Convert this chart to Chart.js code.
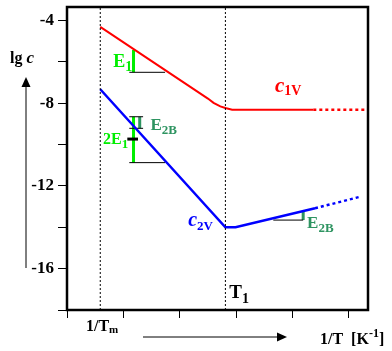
<!DOCTYPE html>
<html>
<head>
<meta charset="utf-8">
<script src="https://cdn.jsdelivr.net/npm/chart.js@4"></script>
<style>
  body { margin: 0; background: #fff; }
</style>
</head>
<body>
<canvas id="myChart" width="392" height="351"></canvas>
<script>
// data (x = 1/T in arbitrary units, y = lg c)
const c1vX = [0.59, 2.5, 2.6, 2.72, 2.81, 2.93, 4.37];
const c1vY = [-4.3, -7.77, -7.98, -8.15, -8.23, -8.31, -8.31];
const c1vDotX = [4.37, 5.29];
const c1vDotY = [-8.31, -8.31];

const c2vX = [0.59, 2.81, 2.99, 4.40];
const c2vY = [-7.32, -14.0, -14.0, -13.08];
const c2vDotX = [4.40, 5.2];
const c2vDotY = [-13.08, -12.52];

// 1/Tm and T1 markers
const markerX = [0.59, 2.81];

// slope triangles [x1, y1, x2, y2]
const greenBars = [[1.18, -5.42, 1.18, -6.50], [1.18, -8.65, 1.18, -10.87]];
const e2bBars = [[1.29, -8.65, 1.29, -9.21], [4.19, -13.22, 4.19, -13.65]];
const blackLines = [
    [1.105, -6.50, 1.74, -6.50],
    [1.105, -8.65, 1.35, -8.65],
    [1.105, -9.21, 1.35, -9.21],
    [1.105, -10.87, 1.74, -10.87],
    [3.66, -13.65, 4.19, -13.65]
];
const blackDash = [[1.07, -9.73, 1.26, -9.73]];

const yMin = -18;
const yMax = -3.34;
const xMin = 0;
const xMax = 5.34;
const yLabels = [-4, -8, -12, -16];

const RED = '#ff0000';
const BLUE = '#0000ff';
const LIME = '#00ee00';
const SEA = '#2e9461';
const SERIF = '"Liberation Serif", "DejaVu Serif", serif';

function toPoints(xs, ys) {
    return xs.map((x, i) => ({ x: x, y: ys[i] }));
}

function segSets(segs, color, width, dash) {
    return segs.map(s => ({
        data: [{ x: s[0], y: s[1] }, { x: s[2], y: s[3] }],
        borderColor: color,
        borderWidth: width,
        borderDash: dash || [],
        pointRadius: 0,
        showLine: true
    }));
}

const datasets = [];

markerX.forEach(x => {
    datasets.push({
        data: [{ x: x, y: yMin }, { x: x, y: yMax }],
        borderColor: '#000',
        borderWidth: 1,
        borderDash: [2, 2],
        pointRadius: 0,
        showLine: true
    });
});

datasets.push({
    data: toPoints(c1vX, c1vY),
    borderColor: RED,
    borderWidth: 2,
    pointRadius: 0,
    showLine: true
});
datasets.push({
    data: toPoints(c1vDotX, c1vDotY),
    borderColor: RED,
    borderWidth: 2.5,
    borderDash: [3, 3],
    pointRadius: 0,
    showLine: true
});
datasets.push({
    data: toPoints(c2vX, c2vY),
    borderColor: BLUE,
    borderWidth: 2.5,
    pointRadius: 0,
    showLine: true
});
datasets.push({
    data: toPoints(c2vDotX, c2vDotY),
    borderColor: BLUE,
    borderWidth: 2.5,
    borderDash: [3, 3],
    pointRadius: 0,
    showLine: true
});

datasets.push(...segSets(blackLines, '#000', 1));
datasets.push(...segSets(blackDash, '#000', 3));
datasets.push(...segSets(greenBars, LIME, 3));
datasets.push(...segSets(e2bBars, SEA, 3));

// text with subscript / superscript
function subText(ctx, x, y, main, sub, color, size, italic, subSize, drop) {
    ctx.fillStyle = color;
    ctx.textBaseline = 'alphabetic';
    ctx.textAlign = 'left';
    ctx.font = (italic ? 'italic ' : '') + 'bold ' + size + 'px ' + SERIF;
    ctx.fillText(main, x, y);
    const w = ctx.measureText(main).width;
    if (sub) {
        ctx.font = 'bold ' + subSize + 'px ' + SERIF;
        ctx.fillText(sub, x + w, y + drop);
    }
}

function arrow(ctx, x1, y1, x2, y2) {
    const ang = Math.atan2(y2 - y1, x2 - x1);
    const len = 10;
    const half = 4.5;
    ctx.strokeStyle = '#000';
    ctx.lineWidth = 1;
    ctx.beginPath();
    ctx.moveTo(x1, y1);
    ctx.lineTo(x2 - len * Math.cos(ang), y2 - len * Math.sin(ang));
    ctx.stroke();
    ctx.fillStyle = '#000';
    ctx.beginPath();
    ctx.moveTo(x2, y2);
    ctx.lineTo(x2 - len * Math.cos(ang) - half * Math.sin(ang), y2 - len * Math.sin(ang) + half * Math.cos(ang));
    ctx.lineTo(x2 - len * Math.cos(ang) + half * Math.sin(ang), y2 - len * Math.sin(ang) - half * Math.cos(ang));
    ctx.closePath();
    ctx.fill();
}

const decor = {
    id: 'decor',
    afterDraw(chart) {
        const ctx = chart.ctx;
        const a = chart.chartArea;
        const xs = chart.scales.x;
        const ys = chart.scales.y;
        const px = v => xs.getPixelForValue(v);
        const py = v => ys.getPixelForValue(v);
        ctx.save();

        // frame
        ctx.strokeStyle = '#000';
        ctx.lineWidth = 2.5;
        ctx.strokeRect(a.left, a.top, a.right - a.left, a.bottom - a.top);

        // curve labels
        subText(ctx, px(0.82), py(-6.24), 'E', '1', LIME, 18, false, 14, 4);
        subText(ctx, px(0.64), py(-9.97), '2E', '1', LIME, 16, false, 13, 4);
        subText(ctx, px(1.48), py(-9.29), 'E', '2B', SEA, 17, false, 13, 4);
        subText(ctx, px(4.26), py(-14.04), 'E', '2B', SEA, 17, false, 13, 4);
        subText(ctx, px(3.69), py(-7.45), 'c', '1V', RED, 21, true, 14, 3);
        subText(ctx, px(2.15), py(-13.94), 'c', '2V', BLUE, 20, true, 13, 4);
        subText(ctx, px(2.88), py(-17.43), 'T', '1', '#000', 19, false, 14, 5);

        // axis captions
        subText(ctx, 10, 63, 'lg ', '', '#000', 16, false, 0, 0);
        ctx.font = 'bold 16px ' + SERIF;
        const lgW = ctx.measureText('lg ').width;
        subText(ctx, 10 + lgW, 63, 'c', '', '#000', 17, true, 0, 0);
        arrow(ctx, 26, 268, 26, 77);

        subText(ctx, 86, 331, '1/T', 'm', '#000', 16, false, 11, 2);
        arrow(ctx, 143, 337, 287, 337);

        subText(ctx, 320, 344, '1/T  [K', '-1', '#000', 16, false, 12, -7);
        ctx.font = 'bold 16px ' + SERIF;
        const kW = ctx.measureText('1/T  [K').width;
        ctx.font = 'bold 12px ' + SERIF;
        const sW = ctx.measureText('-1').width;
        subText(ctx, 320 + kW + sW, 344, ']', '', '#000', 16, false, 0, 0);

        ctx.restore();
    }
};

new Chart(document.getElementById('myChart'), {
    type: 'scatter',
    data: { datasets: datasets },
    options: {
        responsive: false,
        animation: false,
        layout: { padding: { top: 7, right: 24, left: 0, bottom: 0 } },
        plugins: {
            legend: { display: false },
            tooltip: { enabled: false }
        },
        scales: {
            x: {
                type: 'linear',
                min: xMin,
                max: xMax,
                border: { display: false },
                grid: { drawOnChartArea: false, drawTicks: true, tickLength: 8, color: '#000', lineWidth: 1 },
                ticks: { stepSize: 1, includeBounds: false, callback: () => '' },
                afterFit(s) {
                    s.height = 41;
                    s.paddingLeft = 0;
                    s.paddingRight = 0;
                }
            },
            y: {
                type: 'linear',
                min: yMin,
                max: yMax,
                border: { display: false },
                grid: { drawOnChartArea: false, drawTicks: true, tickLength: 9, color: '#000', lineWidth: 1 },
                ticks: {
                    stepSize: 2,
                    includeBounds: false,
                    padding: 4,
                    color: '#000',
                    font: { family: SERIF, size: 17, weight: 'bold' },
                    callback: v => (yLabels.includes(v) ? String(v) : '')
                },
                afterFit(s) {
                    s.width = 67;
                    s.paddingTop = 0;
                    s.paddingBottom = 0;
                }
            }
        }
    },
    plugins: [decor]
});
</script>
</body>
</html>
